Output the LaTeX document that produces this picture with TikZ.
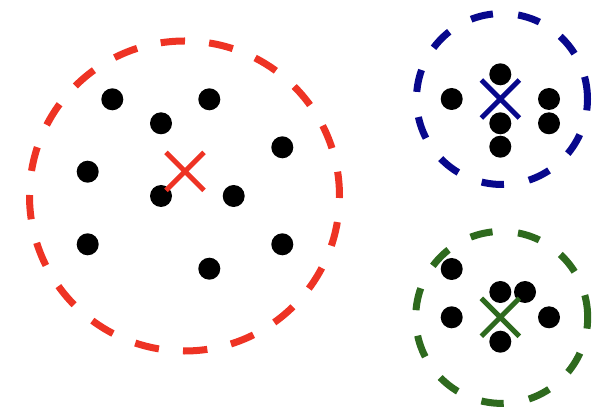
\documentclass[tikz,border=0pt]{standalone}
\usetikzlibrary{shapes.misc}
\definecolor{cred}{RGB}{238,51,36}
\definecolor{cblue}{RGB}{8,8,140}
\definecolor{cgreen}{RGB}{46,106,30}
\tikzset{
  dot/.style={circle,fill=black,inner sep=0pt,minimum size=22pt},
  xmark/.style={cross out,draw=#1,line width=5pt,inner sep=0pt,minimum size=33pt},
  ring/.style={draw=#1,line width=7pt},
}
\begin{document}
\begin{tikzpicture}[x=1pt,y=-1pt]
\useasboundingbox (0,0) rectangle (610,411);
% red cluster
\coordinate (rc) at (184.5,196);
\draw[ring=cred,dash pattern=on 24.4pt off 24.2pt] (rc) circle[radius=155pt];
\node[dot] (r1) at (112.3,99.3) {};
\node[dot] (r2) at (209.3,99.3) {};
\node[dot] (r3) at (161,123.3) {};
\node[dot] (r4) at (282.3,147.3) {};
\node[dot] (r5) at (87.7,171.7) {};
\node[dot] (r6) at (161,196) {};
\node[dot] (r7) at (233.7,196) {};
\node[dot] (r8) at (87.7,244.3) {};
\node[dot] (r9) at (282.3,244.3) {};
\node[dot] (r10) at (209.3,268.7) {};
\node[xmark=cred] (rx) at (185,171.3) {};
% blue cluster
\coordinate (bc) at (502,99);
\draw[ring=cblue,dash pattern=on 22.5pt off 25.3pt] (bc) circle[radius=85.5pt];
\node[dot] (b1) at (451.7,99) {};
\node[dot] (b2) at (500.3,74.3) {};
\node[dot] (b3) at (500.3,123.3) {};
\node[dot] (b4) at (500.3,146.7) {};
\node[dot] (b5) at (549,99) {};
\node[dot] (b6) at (549,123.3) {};
\node[xmark=cblue] (bx) at (500.3,99) {};
% green cluster
\coordinate (gc) at (501.7,317.4) ;
\draw[ring=cgreen,dash pattern=on 22.5pt off 25.6pt] (gc) circle[radius=86pt];
\node[dot] (g1) at (451.7,269) {};
\node[dot] (g2) at (500.3,292) {};
\node[dot] (g3) at (525,292) {};
\node[dot] (g4) at (451.7,317.3) {};
\node[dot] (g5) at (549,317.3) {};
\node[dot] (g6) at (500.3,341.7) {};
\node[xmark=cgreen] (gx) at (500.3,317.3) {};
\end{tikzpicture}
\end{document}
